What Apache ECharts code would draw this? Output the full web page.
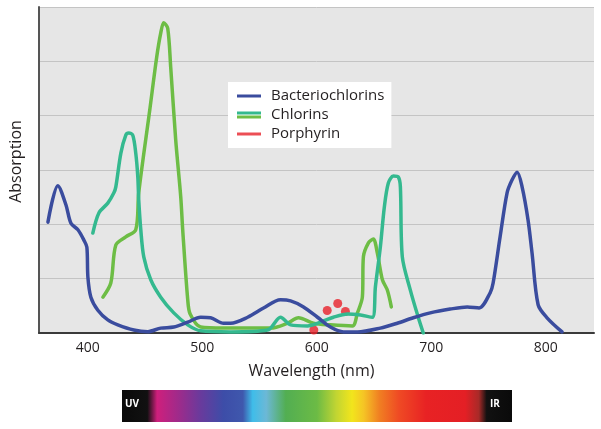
<!DOCTYPE html>
<html>
<head>
<meta charset="utf-8">
<script src="https://cdn.jsdelivr.net/npm/echarts@6/dist/echarts.min.js"></script>
<style>
html,body{margin:0;padding:0;background:#fff;}
#chart{width:601px;height:429px;}
</style>
</head>
<body>
<div id="chart"></div>
<script>
// ---------- DATA ----------
const xTickLabels = [400, 500, 600, 700, 800];

const bactNm  = [365.3,374.0,381.0,385.4,391.5,396.7,399.3,400.2,402.8,408.9,417.6,426.3,440.3,452.5,463.8,475.2,487.4,498.7,507.4,518.7,524.9,539.7,553.6,568.4,577.2,588.5,600.7,612.0,623.4,635.6,655.6,670.4,684.4,699.2,716.6,731.5,741.9,751.5,754.1,760.2,766.3,770.7,775.1,779.4,784.6,788.1,793.4,801.2,814.3];
const bactAbs = [2.04,2.71,2.36,2.02,1.90,1.71,1.58,1.03,0.66,0.42,0.24,0.15,0.055,0.024,0.09,0.11,0.20,0.29,0.28,0.18,0.18,0.29,0.46,0.61,0.59,0.48,0.29,0.11,0.02,0.02,0.09,0.18,0.28,0.37,0.44,0.48,0.46,0.74,0.92,1.77,2.58,2.82,2.96,2.69,2.08,1.47,0.52,0.28,0.02];

const chlorinANm  = [404.5,409.8,417.6,422.9,424.6,429.0,433.3,435.9,439.4,442.0,443.8,444.6,446.4,449.0,455.1,463.8,475.2,487.4,498.7,524.9,557.1,568.4,577.2,592.0,603.3,614.6,626.9,638.2,648.6,651.3,655.6,659.1,662.6,667.0,671.3,673.1,674.8,681.8,688.7,693.1];
const chlorinAAbs = [1.84,2.21,2.39,2.58,2.69,3.31,3.64,3.68,3.64,3.31,2.87,2.45,1.90,1.40,0.98,0.66,0.37,0.15,0.04,0.02,0.055,0.29,0.15,0.13,0.20,0.29,0.35,0.33,0.29,0.85,1.58,2.32,2.76,2.89,2.87,2.69,1.40,0.79,0.29,0.0];

const chlorinBNm  = [413.3,420.2,424.6,433.3,442.0,444.6,454.2,460.3,463.8,466.4,469.9,472.5,476.9,481.3,483.0,487.4,489.5,498.7,518.7,559.7,574.5,584.1,597.2,612.0,631.2,635.6,639.9,640.8,645.2,649.5,653.0,657.4,661.7,665.2];
const chlorinBAbs = [0.66,0.92,1.62,1.77,1.90,2.58,4.10,5.08,5.52,5.71,5.61,4.90,3.55,2.50,1.90,0.61,0.35,0.11,0.09,0.09,0.18,0.28,0.18,0.15,0.13,0.37,0.66,1.40,1.66,1.73,1.47,0.98,0.79,0.48];

const porphyrinNm  = [597.5, 609.2, 618.4, 625.1];
const porphyrinAbs = [0.055, 0.414, 0.543, 0.396];

const seriesNames = ['Bacteriochlorins', 'Chlorins', 'Porphyrin'];
const colors = { bact: '#3a4c9e', chlA: '#34b98f', chlB: '#6dbd45', porph: '#e8222b' };

// ---------- helpers ----------
const zip = (xs, ys) => xs.map((x, i) => [x, ys[i]]);
const svgIcon = (rects) => 'image://data:image/svg+xml;charset=utf-8,' + encodeURIComponent(
  '<svg xmlns="http://www.w3.org/2000/svg" width="24" height="8" viewBox="0 0 24 8">' +
  rects.map(r => '<rect x="0" y="' + r[0] + '" width="24" height="' + r[1] + '" fill="' + r[2] + '"/>').join('') +
  '</svg>');

const chart = echarts.init(document.getElementById('chart'), null, { renderer: 'canvas' });
const font = '"Open Sans", "Noto Sans", sans-serif';

const lineCommon = { type: 'line', showSymbol: false, smooth: 0.3, lineStyle: { width: 3.5, cap: 'round', join: 'round' }, emphasis: { disabled: true } };

chart.setOption({
  animation: false,
  textStyle: { fontFamily: font },
  grid: { left: 38, right: 7, top: 7, bottom: 96, show: true, backgroundColor: '#e6e6e6', borderWidth: 0 },
  xAxis: {
    type: 'value', min: 357.5, max: 842.2,
    name: 'Wavelength (nm)', nameLocation: 'middle', nameGap: 30,
    nameTextStyle: { fontSize: 16, color: '#231f20', fontFamily: font, padding: [0, 10, 0, 0] },
    axisLine: { show: true, lineStyle: { color: '#3a3a3a', width: 2 } },
    axisTick: { show: false },
    splitLine: { show: false },
    axisLabel: { fontSize: 14, color: '#231f20', margin: 8, showMinLabel: false, showMaxLabel: false,
      formatter: v => xTickLabels.includes(v) ? String(v) : '' }
  },
  yAxis: {
    type: 'value', min: 0, max: 6, interval: 1,
    name: 'Absorption', nameLocation: 'middle', nameGap: 15,
    nameTextStyle: { fontSize: 16, color: '#231f20', fontFamily: font, padding: [0, 0, 0, 17] },
    axisLine: { show: true, lineStyle: { color: '#555', width: 2 } },
    axisTick: { show: false },
    axisLabel: { show: false },
    splitLine: { show: true, lineStyle: { color: '#c4c4c4', width: 1 } }
  },
  legend: {
    orient: 'vertical', left: 228, top: 82,
    backgroundColor: '#ffffff', padding: [6, 7, 6, 9],
    itemWidth: 24, itemHeight: 8, itemGap: 3,
    textStyle: { fontSize: 15, color: '#231f20', fontFamily: font, lineHeight: 16, padding: [0, 0, 0, 5] },
    data: [
      { name: 'Bacteriochlorins', icon: svgIcon([[2.5, 3, colors.bact]]) },
      { name: 'Chlorins', icon: svgIcon([[0.5, 3, colors.chlA], [4.5, 3, colors.chlB]]) },
      { name: 'Porphyrin', icon: svgIcon([[2.5, 3, colors.porph]]) }
    ]
  },
  series: [
    Object.assign({}, lineCommon, { name: seriesNames[1], data: zip(chlorinBNm, chlorinBAbs), itemStyle: { color: colors.chlB }, lineStyle: Object.assign({}, lineCommon.lineStyle, { color: colors.chlB }) }),
    Object.assign({}, lineCommon, { name: seriesNames[1], data: zip(chlorinANm, chlorinAAbs), itemStyle: { color: colors.chlA }, lineStyle: Object.assign({}, lineCommon.lineStyle, { color: colors.chlA }) }),
    Object.assign({}, lineCommon, { name: seriesNames[0], data: zip(bactNm, bactAbs), itemStyle: { color: colors.bact }, lineStyle: Object.assign({}, lineCommon.lineStyle, { color: colors.bact }) }),
    { type: 'scatter', name: seriesNames[2], data: zip(porphyrinNm, porphyrinAbs), symbolSize: 9, itemStyle: { color: colors.porph }, emphasis: { disabled: true } }
  ],
  graphic: [
    { type: 'rect', left: 122, top: 390, shape: { width: 390, height: 32 },
      style: { fill: new echarts.graphic.LinearGradient(0, 0, 1, 0, [
        { offset: 0.00, color: '#0a0a0a' },
        { offset: 0.065, color: '#111' },
        { offset: 0.09, color: '#cf1f7c' },
        { offset: 0.15, color: '#9a2c8c' },
        { offset: 0.20, color: '#6a3a9c' },
        { offset: 0.26, color: '#3d4da8' },
        { offset: 0.31, color: '#3f58ad' },
        { offset: 0.335, color: '#3fbde9' },
        { offset: 0.37, color: '#6cb8d6' },
        { offset: 0.42, color: '#52ae52' },
        { offset: 0.50, color: '#6cbb45' },
        { offset: 0.55, color: '#c2d532' },
        { offset: 0.59, color: '#f2e51c' },
        { offset: 0.62, color: '#f5c425' },
        { offset: 0.66, color: '#f07f22' },
        { offset: 0.71, color: '#ef4a24' },
        { offset: 0.78, color: '#e82224' },
        { offset: 0.88, color: '#e41f25' },
        { offset: 0.915, color: '#a82a28' },
        { offset: 0.935, color: '#111' },
        { offset: 1.00, color: '#0a0a0a' }
      ]) } },
    { type: 'text', left: 125, top: 399, style: { text: 'UV', fill: '#ffffff', font: 'bold 10px "Open Sans", sans-serif' } },
    { type: 'text', left: 490, top: 399, style: { text: 'IR', fill: '#ffffff', font: 'bold 10px "Open Sans", sans-serif' } }
  ]
});
</script>
</body>
</html>
